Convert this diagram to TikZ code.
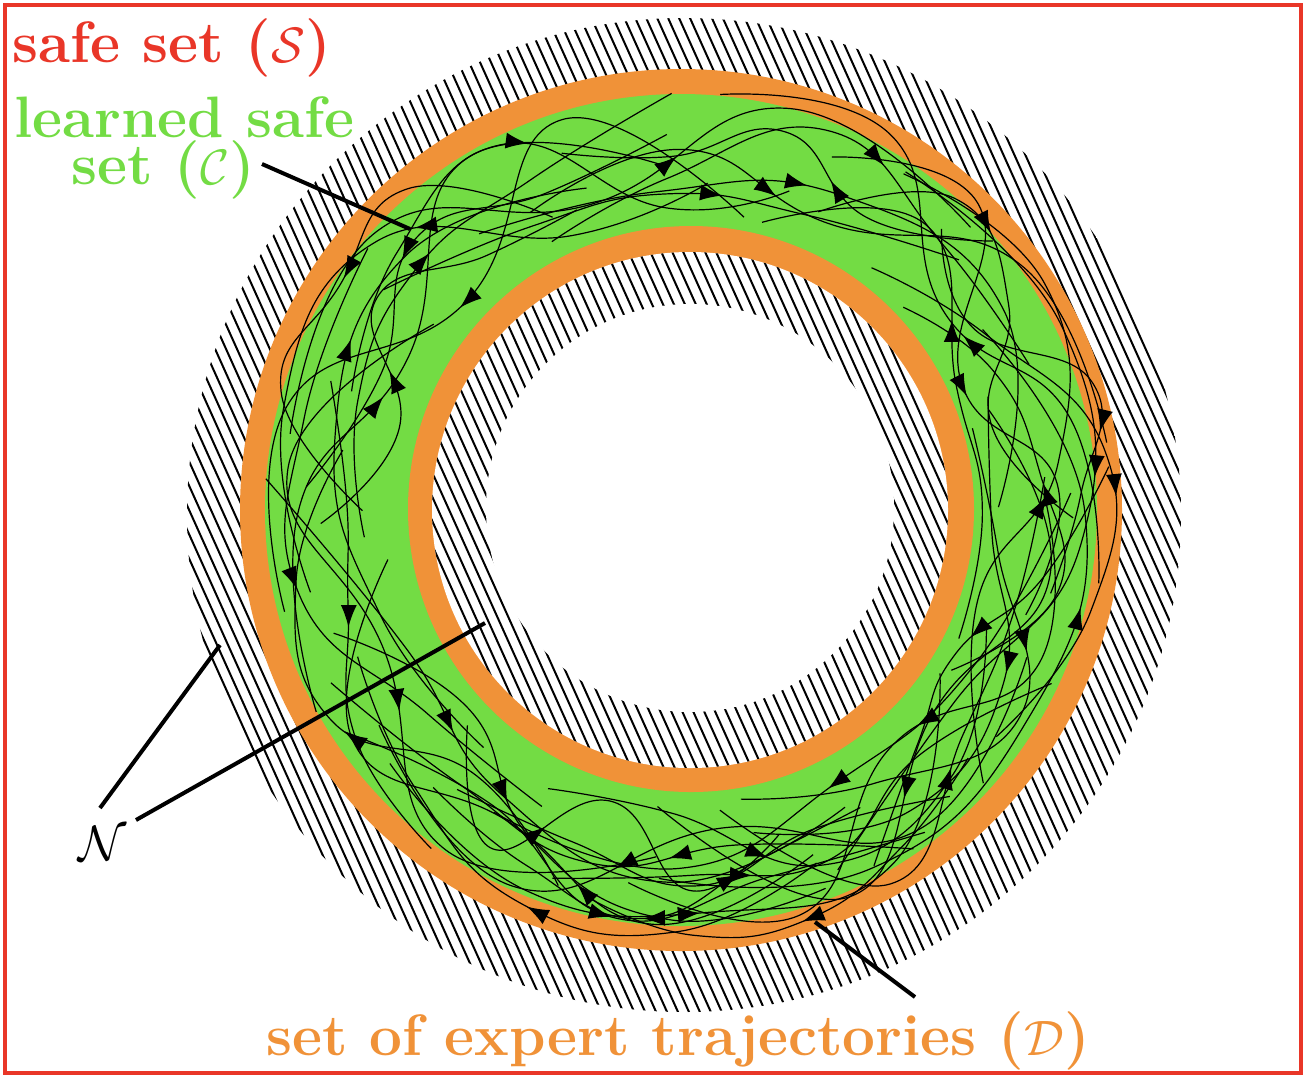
\documentclass[tikz,border=0pt]{standalone}
\usetikzlibrary{arrows.meta,decorations.markings,calc}

\definecolor{safered}{RGB}{233,54,40}
\definecolor{exporange}{RGB}{240,146,56}
\definecolor{learngreen}{RGB}{115,220,68}

\begin{document}
\begin{tikzpicture}[x=0.5pt, y=-0.5pt,
				setlabel/.style={
				% The size:
				inner sep=0pt,
				% Font
				font=\fontsize{29.2}{23.5}\selectfont\bfseries
				},
				leader/.style={
				% The border:
				line width=2pt, black
				},
				hatch/.style={
				line width=1pt, black
				},
				traj/.style={
				% The border:
				line width=0.6pt, black,
				% the arrow in the middle
				postaction={decorate, decoration={markings,
				  mark=at position #1 with {\arrow{Latex[length=11pt,width=8pt]}}}}
				},
				traj/.default=0.5,
				]
    \useasboundingbox (0,0) rectangle (1306,1078);
    % safe set frame
    \draw[safered, line width=2pt] (5,5) rectangle (1301,1073);

    % outer hatched band
    \begin{scope}
      \clip (684,515) circle (497);
      \foreach \t in {-620,-610,...,620}
        \draw[hatch] ($(684,515)+({0.91*\t-0.41*620},{-0.41*\t-0.91*620})$) -- ++({0.41*1240},{0.91*1240});
    \end{scope}

    % expert trajectories set and learned safe set
    \fill[exporange] (681,510) circle (441);
    \fill[learngreen] (681,510) circle (416);
    \fill[exporange] (691,509) circle (283);
    \fill[white] (690,510) circle (258);

    % inner hatched band
    \begin{scope}
      \clip (690,510) circle (258);
      \foreach \t in {-300,-290,...,300}
        \draw[hatch] ($(690,510)+({0.91*\t-0.41*300},{-0.41*\t-0.91*300})$) -- ++({0.41*600},{0.91*600});
    \end{scope}
    \fill[white] (690,508) circle (204);

    % trajectories
    \pgfmathsetseed{1234}
    \begin{scope}[shift={(686,510)}]
      \foreach \k in {1,...,50}{
        \pgfmathsetmacro{\aS}{\k*7.2+rnd*25}
        \pgfmathsetmacro{\aD}{(60+rnd*70)*(rnd<0.5 ? -1 : 1)}
        \pgfmathsetmacro{\rA}{292+rnd*136}
        \pgfmathsetmacro{\rB}{292+rnd*136}
        \pgfmathsetmacro{\rC}{292+rnd*136}
        \pgfmathsetmacro{\rD}{292+rnd*136}
        \pgfmathsetmacro{\rE}{292+rnd*136}
        \pgfmathsetmacro{\pos}{0.35+rnd*0.3}
        \draw[traj=\pos] plot[smooth, tension=0.8] coordinates {
          (\aS:\rA) ({\aS+\aD/4}:\rB) ({\aS+\aD/2}:\rC)
          ({\aS+3*\aD/4}:\rD) ({\aS+\aD}:\rE)};
      }
    \end{scope}

    % labels
    \node[setlabel, safered, anchor=base west] (safeLbl) at (12,62) {safe set ($\mathcal{S}$)};
    \node[setlabel, learngreen, align=left, anchor=north west] (learnLbl) at (14,96)
        {learned safe\\\hspace*{28.5pt}set ($\mathcal{C}$)};
    \node[setlabel, exporange, anchor=base west] (expLbl) at (266,1055) {set of expert trajectories ($\mathcal{D}$)};
    \node[inner sep=0pt, font=\fontsize{33}{40}\selectfont] (nLbl) at (103,843) {$\mathcal{N}$};

    % leader lines
    \coordinate (cFrom) at (262,164);
    \coordinate (cTo) at (410,229);
    \coordinate (nFromA) at (100,808);
    \coordinate (nToA) at (220,645);
    \coordinate (nFromB) at (136,820);
    \coordinate (nToB) at (485,623);
    \coordinate (dFrom) at (915,997);
    \coordinate (dTo) at (815,922);
    \draw[leader] (cFrom) -- (cTo);
    \draw[leader] (nFromA) -- (nToA);
    \draw[leader] (nFromB) -- (nToB);
    \draw[leader] (dFrom) -- (dTo);
\end{tikzpicture}
\end{document}
